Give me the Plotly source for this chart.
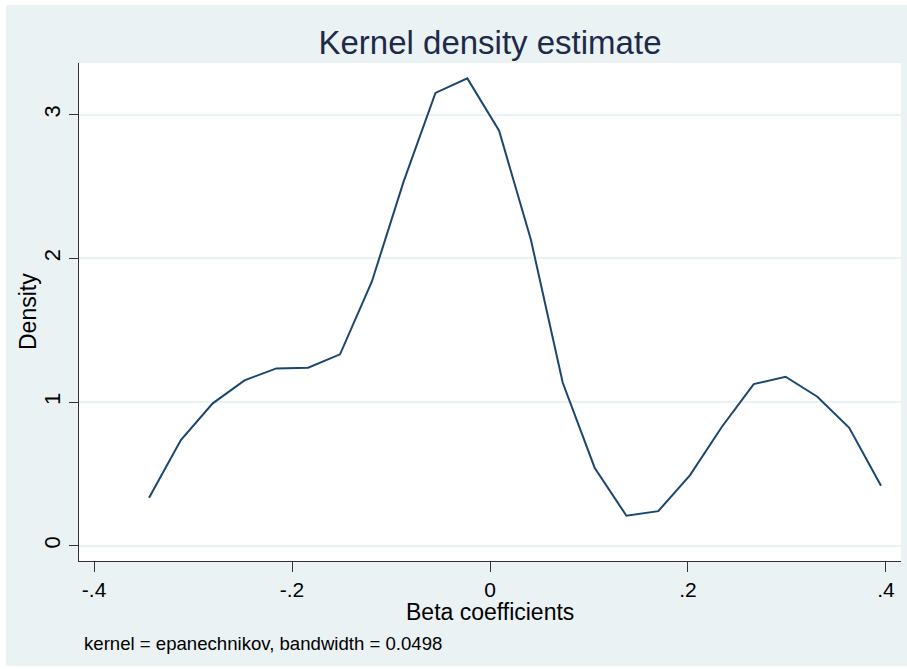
import plotly.graph_objects as go

# Kernel density estimate of beta coefficients (evaluation grid and density)
beta_grid = [-0.3444, -0.3123, -0.2801, -0.2480, -0.2158, -0.1837, -0.1515, -0.1194,
             -0.0872, -0.0551, -0.0229, 0.0092, 0.0414, 0.0735, 0.1057, 0.1378,
             0.1700, 0.2021, 0.2343, 0.2664, 0.2986, 0.3307, 0.3629, 0.3950]
density = [0.334, 0.736, 0.991, 1.151, 1.234, 1.239, 1.332, 1.837,
           2.535, 3.151, 3.252, 2.888, 2.127, 1.134, 0.543, 0.209,
           0.241, 0.492, 0.828, 1.125, 1.176, 1.037, 0.821, 0.418]

x_ticks = [-0.4, -0.2, 0, 0.2, 0.4]
x_tick_text = ["-.4", "-.2", "0", ".2", ".4"]
y_ticks = [0, 1, 2, 3]
y_tick_text = ["0", "1", "2", "3"]

title_text = "Kernel density estimate"
x_title = "Beta coefficients"
y_title = "Density"
note_text = "kernel = epanechnikov, bandwidth = 0.0498"

W, H = 907, 669
ML, MR, MT, MB = 79, 6, 63, 108
FONT = "Liberation Sans, Arial, sans-serif"
BG = "#EAF2F3"
LINE = "#1A476F"

fig = go.Figure()
fig.add_trace(go.Scatter(
    x=beta_grid, y=density, mode="lines",
    line=dict(color=LINE, width=2), hoverinfo="skip", showlegend=False,
))

fig.update_layout(
    width=W, height=H,
    margin=dict(l=ML, r=MR, t=MT, b=MB, pad=0),
    paper_bgcolor=BG, plot_bgcolor="white",
    font=dict(family=FONT, color="black"),
    title=dict(text=title_text, x=(ML + (W - MR)) / 2 / W, xanchor="center",
               y=1 - 42 / H, yanchor="middle", yref="container",
               font=dict(size=33, color="#1E2A4A", family=FONT)),
    showlegend=False,
)

fig.update_xaxes(
    range=[-0.4152, 0.4152], tickvals=x_ticks, ticktext=x_tick_text,
    showgrid=False, zeroline=False, showline=True, linecolor="#333333", linewidth=1,
    ticks="outside", ticklen=10, tickcolor="#333333", tickwidth=1,
    tickfont=dict(size=21, color="black"),
)
fig.update_yaxes(
    range=[-0.106, 3.359], tickvals=y_ticks, ticktext=y_tick_text,
    showgrid=True, gridcolor=BG, gridwidth=1.5, zeroline=False,
    showline=True, linecolor="#333333", linewidth=1,
    ticks="outside", ticklen=9, tickcolor="#333333", tickwidth=1,
    tickangle=-90, tickfont=dict(size=22, color="black"),
)

pw, ph = W - ML - MR, H - MT - MB
def px_x(v):
    return (v - ML) / pw
def px_y(v):
    return (H - MB - v) / ph

# Axis titles and the note below the x axis
fig.add_annotation(
    text=x_title, xref="paper", yref="paper", x=0.5, y=px_y(612),
    xanchor="center", yanchor="middle", showarrow=False,
    font=dict(size=23, color="black", family=FONT),
)
fig.add_annotation(
    text=y_title, xref="paper", yref="paper", x=px_x(28), y=px_y(312),
    xanchor="center", yanchor="middle", showarrow=False, textangle=-90,
    font=dict(size=23, color="black", family=FONT),
)
fig.add_annotation(
    text=note_text, xref="paper", yref="paper",
    x=px_x(82), y=px_y(643),
    xanchor="left", yanchor="middle", showarrow=False,
    font=dict(size=18.6, color="black", family=FONT),
)

# White outer frame around the graph region
for x0, y0, x1, y1 in [(0, 0, 6, H), (0, 0, W, 5), (0, 666, W, H)]:
    fig.add_shape(type="rect", xref="paper", yref="paper",
                  x0=px_x(x0), x1=px_x(x1), y0=px_y(y1), y1=px_y(y0),
                  fillcolor="white", line=dict(width=0), layer="below")

fig.write_html("out.html")
